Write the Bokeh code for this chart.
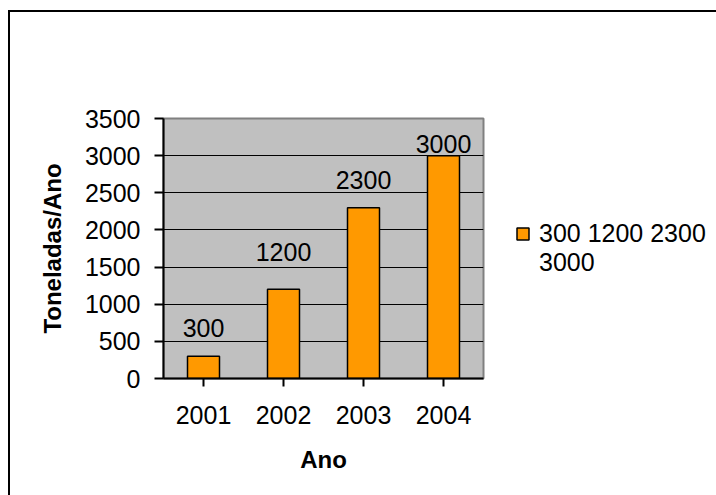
from bokeh.plotting import figure
from bokeh.models import (ColumnDataSource, Legend, LegendItem, FixedTicker,
                          FactorRange, Range1d)
from bokeh.embed import file_html
from bokeh.resources import INLINE
from bokeh.core.properties import value

# ---- data ----
years = ["2001", "2002", "2003", "2004"]
toneladas = [300, 1200, 2300, 3000]
value_labels = ["300", "1200", "2300", "3000"]
y_ticks = [0, 500, 1000, 1500, 2000, 2500, 3000, 3500]
legend_lines = ["300 1200 2300", "3000"]
x_title = "Ano"
y_title = "Toneladas/Ano"

# ---- style ----
FONT = "Liberation Sans"
FS = "25px"
label_gap_px = [-28, -37, -28, -12]

src = ColumnDataSource(dict(year=years, t=toneladas, lbl=value_labels, off=label_gap_px))

p = figure(frame_width=320, frame_height=260,
           x_range=FactorRange(*years), y_range=Range1d(0, 3500),
           output_backend="svg", toolbar_location=None,
           min_border_left=153, min_border_right=233,
           min_border_top=106, min_border_bottom=117)
p.styles = {"margin-left": "8px", "margin-top": "10px",
            "border-left": "2px solid black", "border-top": "2px solid black"}

p.background_fill_color = "#c0c0c0"
p.border_fill_color = "white"
p.outline_line_color = "#808080"
p.outline_line_width = 2

bars = p.vbar(x="year", top="t", width=0.4, source=src,
              fill_color="#ff9900", line_color="black", line_width=1.5)
# invisible renderer used only for the wrapped second legend line
blank = p.vbar(x=[], top=[], width=0.4, fill_alpha=0, line_alpha=0)

p.text(x="year", y="t", text="lbl", y_offset="off", source=src,
       text_align="center", text_baseline="alphabetic",
       text_font=value(FONT), text_font_size=FS, text_color="black")

# axes
p.xgrid.visible = False
p.ygrid.grid_line_color = "black"
p.ygrid.grid_line_width = 1
p.yaxis.ticker = FixedTicker(ticks=y_ticks)

for ax in (p.xaxis[0], p.yaxis[0]):
    ax.axis_line_color = "black"
    ax.axis_line_width = 2
    ax.major_tick_line_color = "black"
    ax.major_tick_line_width = 2
    ax.major_tick_in = 0
    ax.minor_tick_line_color = None
    ax.major_label_text_font = FONT
    ax.major_label_text_font_size = FS
    ax.major_label_text_color = "black"
    ax.axis_label_text_font = FONT
    ax.axis_label_text_font_size = "24px"
    ax.axis_label_text_font_style = "bold"
    ax.axis_label_text_color = "black"

p.xaxis.major_tick_out = 8
p.yaxis.major_tick_out = 9
p.xaxis.major_label_standoff = 19
p.yaxis.major_label_standoff = 14
p.xaxis.axis_label = x_title
p.yaxis.axis_label = y_title
p.xaxis.axis_label_standoff = 19
p.yaxis.axis_label_standoff = 16

legend = Legend(items=[LegendItem(label=legend_lines[0], renderers=[bars]),
                       LegendItem(label=legend_lines[1], renderers=[blank])],
                location="center_left", padding=0, margin=32, spacing=0,
                border_line_color=None, background_fill_alpha=0,
                glyph_width=15, glyph_height=15, label_standoff=9,
                label_text_font=FONT, label_text_font_size=FS,
                label_text_color="black")
p.add_layout(legend, "right")

open("out.html", "w").write(file_html(p, INLINE))
